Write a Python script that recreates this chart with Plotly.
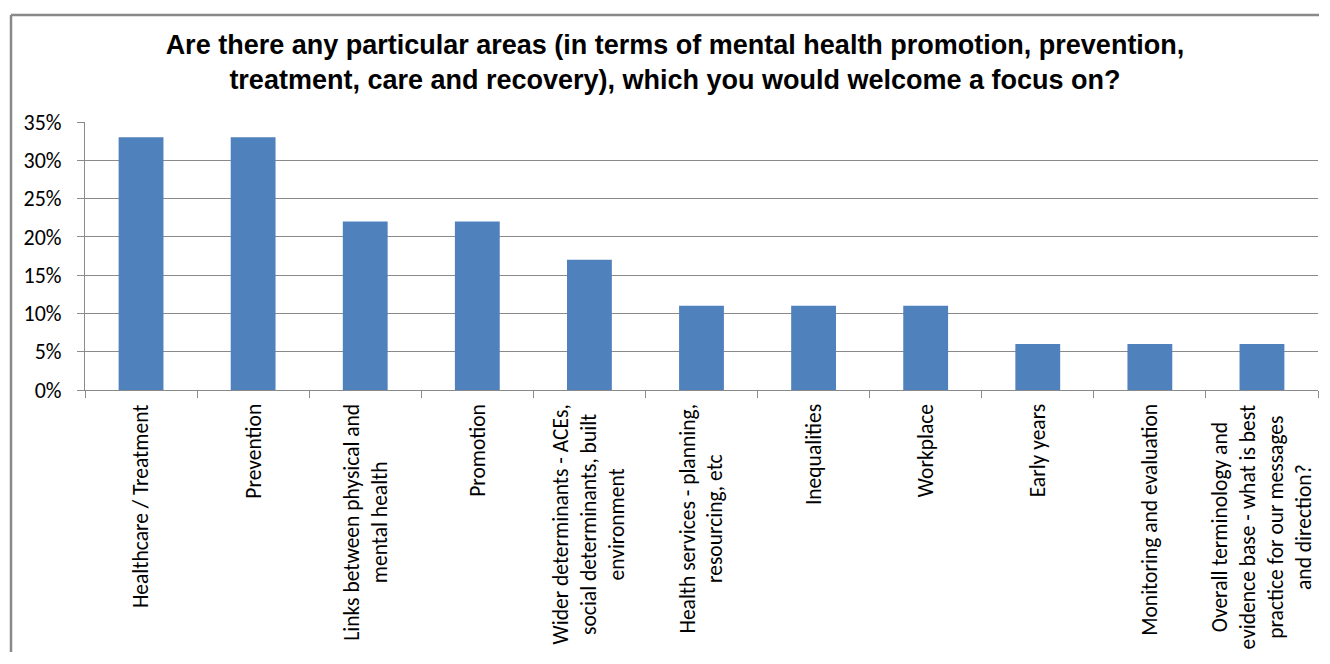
import plotly.graph_objects as go

categories = [
    "Healthcare / Treatment",
    "Prevention",
    "Links between physical and<br>mental health",
    "Promotion",
    "Wider determinants - ACEs,<br>social determinants, built<br>environment",
    "Health services - planning,<br>resourcing, etc",
    "Inequalities",
    "Workplace",
    "Early years",
    "Monitoring and evaluation",
    "Overall terminology and<br>evidence base - what is best<br>practice for our messages<br>and direction?",
]
values = [0.33, 0.33, 0.22, 0.22, 0.17, 0.11, 0.11, 0.11, 0.06, 0.06, 0.06]
y_ticks = [0, 0.05, 0.10, 0.15, 0.20, 0.25, 0.30, 0.35]

title_text = ("<b>Are there any particular areas (in terms of mental health promotion, prevention,"
              "<br>treatment, care and recovery), which you would welcome a focus on?</b>")

# page has an 8px body margin; figure coords = page coords - 8
OFF = 8
W, H = 1312, 644
ML, MT = 85 - OFF, 122 - OFF
PR, PB = 1318 - OFF, 390 - OFF
MR, MB = W - PR, H - PB
PH = H - MT - MB
PW = W - ML - MR

LABEL_FONT = "Carlito, Calibri, Lato, sans-serif"
GRID = "#8a8a8a"
BORDER = "#898989"

fig = go.Figure()
fig.add_trace(go.Bar(
    x=list(range(len(categories))),
    y=values,
    marker=dict(color="#4F81BD", line=dict(width=0)),
    hoverinfo="skip",
))

annotations = []
for i, c in enumerate(categories):
    annotations.append(dict(
        x=i, y=0, xref="x", yref="paper",
        text=c, showarrow=False, textangle=-90,
        xanchor="center", yanchor="top", yshift=-12,
        align="center",
        font=dict(family=LABEL_FONT, size=21.5, color="#000000"),
    ))

bx0 = (11 - OFF - ML) / PW
bx1 = (W - 1 - ML) / PW
by0 = (MT + PH - H) / PH
by1 = (MT + PH - (15 - OFF)) / PH

fig.update_layout(
    width=W, height=H,
    margin=dict(l=ML, r=MR, t=MT, b=MB, pad=0),
    paper_bgcolor="white", plot_bgcolor="white",
    showlegend=False,
    bargap=0.6,
    title=dict(
        text=title_text,
        x=(675 - OFF) / W, xanchor="center", xref="container",
        y=1 - 46 / H, yanchor="top", yref="container",
        font=dict(family="Liberation Sans, Arial, sans-serif", size=27, color="#000000"),
    ),
    xaxis=dict(
        type="linear",
        range=[-0.5, len(categories) - 0.5],
        tickvals=[i - 0.5 for i in range(len(categories) + 1)],
        showticklabels=False,
        ticks="outside", ticklen=7, tickcolor=GRID, tickwidth=1,
        showgrid=False, zeroline=False,
        showline=True, linecolor=GRID, linewidth=1,
    ),
    yaxis=dict(
        range=[0, 0.35],
        tickvals=y_ticks,
        tickformat=".0%",
        ticks="outside", ticklen=7, tickcolor=GRID, tickwidth=1,
        showgrid=True, gridcolor=GRID, gridwidth=1,
        zeroline=False,
        showline=True, linecolor=GRID, linewidth=1,
        tickfont=dict(family=LABEL_FONT, size=22, color="#000000"),
        ticklabelstandoff=11,
    ),
    annotations=annotations,
    shapes=[
        dict(type="line", xref="paper", yref="paper",
             x0=bx0, x1=bx0, y0=by0, y1=by1,
             line=dict(color=BORDER, width=2.5), layer="below"),
        dict(type="line", xref="paper", yref="paper",
             x0=bx0, x1=bx1, y0=by1, y1=by1,
             line=dict(color=BORDER, width=2.5), layer="below"),
    ],
)

fig.write_html("out.html")
